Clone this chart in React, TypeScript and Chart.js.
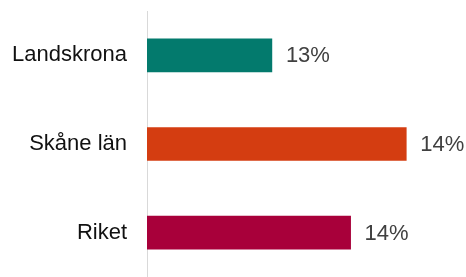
import React, { useEffect, useRef } from "react";
import { Chart, registerables } from "chart.js";

Chart.register(...registerables);

const categories = ["Landskrona", "Skåne län", "Riket"];
const values = [13.42, 14.41, 14.0];
const barColors = ["#037a6d", "#d43d11", "#a8003a"];
const axisMin = 12.5;
const axisMax = 14.85;

const FONT = "'Liberation Sans', Arial, sans-serif";

const valueLabelPlugin = {
  id: "valueLabels",
  afterDatasetsDraw(chart: any) {
    const ctx = chart.ctx;
    const meta = chart.getDatasetMeta(0);
    ctx.save();
    ctx.font = `22px ${FONT}`;
    ctx.fillStyle = "#404040";
    ctx.textAlign = "left";
    ctx.textBaseline = "middle";
    meta.data.forEach((bar: any, i: number) => {
      const v = chart.data.datasets[0].data[i] as number;
      ctx.fillText(`${Math.round(v)}%`, bar.x + 14, bar.y + 1);
    });
    ctx.restore();
  },
};

export default function App() {
  const ref = useRef<HTMLCanvasElement | null>(null);
  useEffect(() => {
    if (!ref.current) return;
    const chart = new Chart(ref.current, {
      type: "bar",
      data: {
        labels: categories,
        datasets: [
          {
            data: values,
            backgroundColor: barColors,
            borderWidth: 0,
            barThickness: 33,
          },
        ],
      },
      options: {
        indexAxis: "y",
        animation: false,
        responsive: false,
        maintainAspectRatio: false,
        layout: { padding: { top: 11, bottom: -2, left: 0, right: 0 } },
        plugins: { legend: { display: false }, tooltip: { enabled: false } },
        scales: {
          x: {
            display: false,
            min: axisMin,
            max: axisMax,
          },
          y: {
            afterFit: (s: any) => {
              s.width = 147;
              s.paddingTop = 0;
              s.paddingBottom = 0;
            },
            grid: { display: false, drawTicks: false },
            border: { display: true, color: "#d9d9d9", width: 1 },
            ticks: {
              padding: 20,
              color: "#111111",
              font: { family: FONT, size: 22 },
            },
          },
        },
      },
      plugins: [valueLabelPlugin],
    });
    return () => chart.destroy();
  }, []);
  return (
    <div style={{ position: "absolute", left: 0, top: 0, width: 466, height: 277, background: "#fff" }}>
      <canvas ref={ref} width={466} height={277} style={{ display: "block" }} />
    </div>
  );
}
